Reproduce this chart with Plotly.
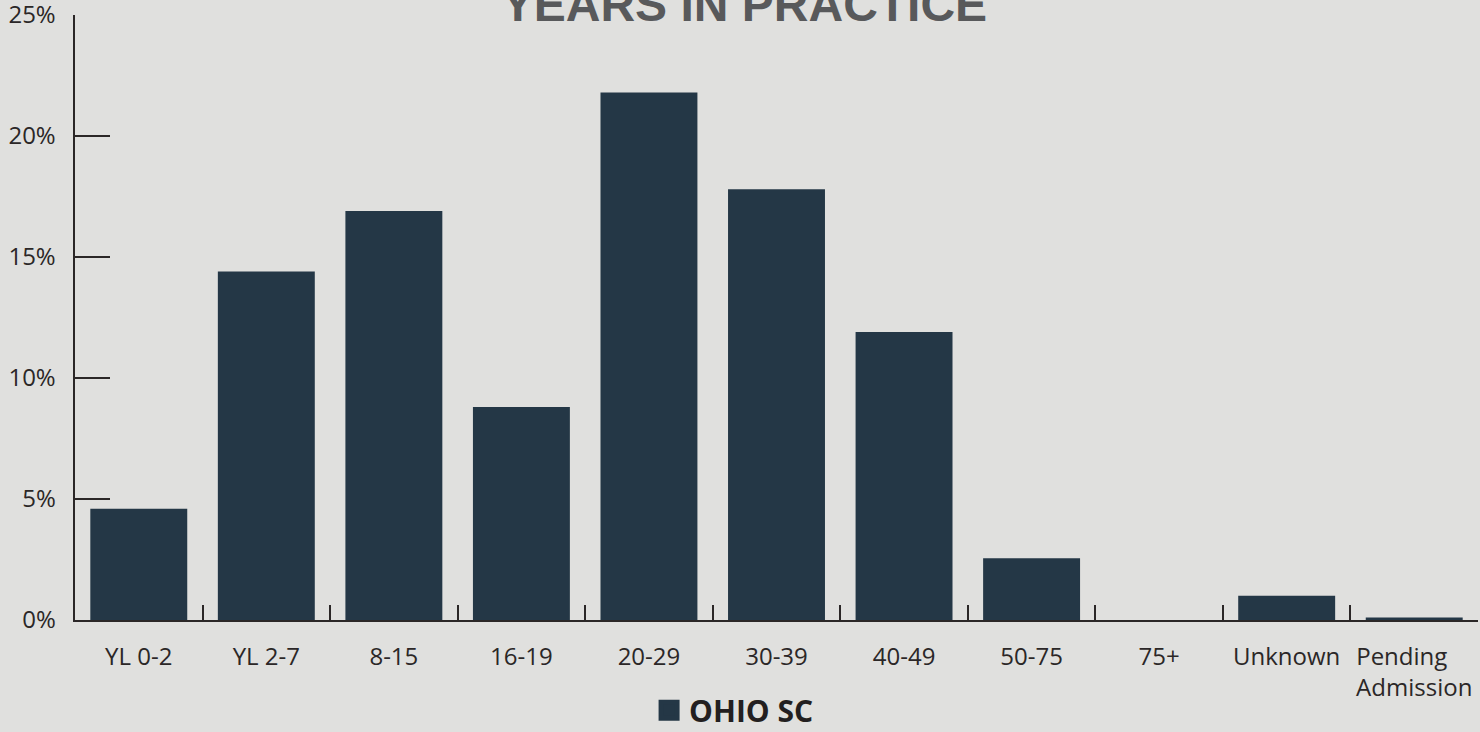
import plotly.graph_objects as go

categories = ["YL 0-2", "YL 2-7", "8-15", "16-19", "20-29", "30-39", "40-49",
              "50-75", "75+", "Unknown", "Pending\u00a0\u00a0\u00a0\u00a0<br>Admission"]
values = [4.6, 14.4, 16.9, 8.8, 21.8, 17.8, 11.9, 2.55, 0.0, 1.0, 0.1]
y_ticks = [0, 5, 10, 15, 20, 25]
y_tick_labels = ["0%", "5%", "10%", "15%", "20%", "25%"]
series_name = "OHIO SC"
title_text = "YEARS IN PRACTICE"

BG = "#e0e0de"
BAR = "#243746"
AXIS = "#2b2727"
FONT = "'Open Sans', sans-serif"
PAD = "\u00a0\u00a0"

fig = go.Figure()
fig.add_trace(go.Bar(x=categories, y=values, name=series_name, showlegend=False,
                     marker=dict(color=BAR, line=dict(width=0))))
# legend entry with a large square swatch
fig.add_trace(go.Scatter(x=[None], y=[None], mode="markers", name=series_name,
                         marker=dict(symbol="square", size=16, color=BAR,
                                     line=dict(color=BAR, width=8)),
                         showlegend=True))

fig.update_layout(
    width=1480, height=732,
    paper_bgcolor=BG, plot_bgcolor=BG,
    margin=dict(l=75, r=2, t=15, b=112, autoexpand=False),
    bargap=0.24,
    font=dict(family=FONT, size=24, color=AXIS),
    title=dict(text="<b>" + title_text + "</b>", x=0.503, xanchor="center",
               xref="container", yref="container", y=0.9945, yanchor="middle",
               font=dict(family="Arial, 'Liberation Sans', sans-serif", size=48, color="#58595b")),
    showlegend=True,
    legend=dict(orientation="h", xref="container", yref="paper",
                x=0.496, xanchor="center", y=-0.149, yanchor="middle",
                font=dict(family=FONT, size=30, color="#231f20", weight="bold"),
                itemwidth=30, bgcolor="rgba(0,0,0,0)"),
)
fig.update_xaxes(
    showline=True, linecolor=AXIS, linewidth=2, automargin=False,
    ticks="inside", tickson="boundaries", ticklen=15, tickwidth=2, tickcolor=AXIS,
    showgrid=False, zeroline=False, ticklabelstandoff=14, ticklabeloverflow="allow",
    tickfont=dict(family=FONT, size=24, color=AXIS),
)
fig.update_yaxes(
    range=[0, 25], tickvals=y_ticks, ticktext=[t + PAD for t in y_tick_labels],
    automargin=False, ticklabeloverflow="allow",
    showline=True, linecolor=AXIS, linewidth=2,
    ticks="inside", ticklen=35, tickwidth=2, tickcolor=AXIS,
    showgrid=False, zeroline=False,
    tickfont=dict(family=FONT, size=24, color=AXIS),
)
fig.write_html("out.html", config={"displayModeBar": False},
               post_script="document.body.style.margin='0';")
